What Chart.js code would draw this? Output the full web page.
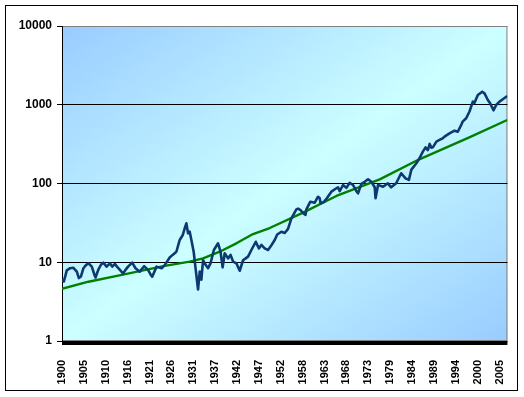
<!DOCTYPE html>
<html>
<head>
<meta charset="utf-8">
<script src="https://cdn.jsdelivr.net/npm/chart.js@4/dist/chart.umd.min.js"></script>
<style>
  body { margin: 0; background: #fff; }
  canvas { display: block; }
</style>
</head>
<body>
<canvas id="myChart" width="524" height="397"></canvas>
<script>
// index series (year, value)
const indexYears = [
  1900.25, 1900.7, 1901.4, 1902.2, 1903.0, 1903.8, 1904.3, 1904.8, 1905.4, 1906.0,
  1906.6, 1907.4, 1908.0, 1908.3, 1908.95, 1909.6, 1910.15, 1910.96, 1911.75, 1912.3,
  1912.95, 1913.6, 1914.15, 1914.9, 1915.5, 1916.1, 1917.1, 1917.9, 1918.9, 1919.95,
  1920.9, 1921.5, 1921.9, 1922.95, 1924.15, 1924.9, 1926.1, 1926.8, 1927.7, 1928.5,
  1929.2, 1929.7, 1930.1, 1930.5, 1930.9, 1931.3, 1931.85, 1932.3, 1932.9, 1933.3,
  1933.7, 1934.1, 1934.75, 1935.3, 1935.9, 1936.7, 1937.7, 1938.3, 1938.8, 1939.3,
  1940.1, 1940.7, 1941.3, 1942.1, 1942.9, 1943.7, 1944.9, 1945.7, 1946.75, 1947.5,
  1948.1, 1948.9, 1949.7, 1950.3, 1951.3, 1951.9, 1952.9, 1953.7, 1954.5, 1955.3,
  1956.5, 1956.9, 1957.5, 1958.1, 1958.7, 1958.9, 1959.85, 1960.9, 1961.7, 1962.1,
  1962.3, 1963.05, 1963.8, 1964.9, 1966.1, 1966.5, 1966.9, 1967.7, 1968.5, 1969.3,
  1970.1, 1970.9, 1971.3, 1972.1, 1972.9, 1973.7, 1974.5, 1975.3, 1975.5, 1976.1,
  1977.3, 1978.45, 1979.25, 1980.45, 1981.65, 1982.7, 1983.5, 1984.1, 1985.3, 1986.05,
  1986.85, 1987.5, 1988.05, 1988.5, 1988.9, 1989.25, 1990.1, 1990.85, 1991.6, 1992.05,
  1993.25, 1994.45, 1995.25, 1996.05, 1996.4, 1997.25, 1998.05, 1998.85, 1999.25, 2000.05,
  2001.1, 2001.65, 2002.45, 2003.0, 2003.8, 2004.45, 2005.25, 2006.05, 2007.1
];
const indexValues = [
  6.1, 5.7, 7.9, 8.4, 8.5, 7.6, 6.3, 6.6, 8.4, 9.2,
  9.7, 8.8, 7.0, 6.4, 8.0, 9.3, 9.9, 8.8, 9.7, 8.8,
  9.5, 8.6, 8.0, 7.2, 8.0, 8.8, 9.9, 8.4, 7.6, 8.9,
  8.0, 7.0, 6.55, 8.8, 8.4, 9.2, 11.5, 12.4, 13.6, 19.2,
  22, 27, 31.2, 23.3, 24.4, 19.2, 13.6, 8.4, 4.5, 7.6,
  6.0, 10.6, 9.2, 8.4, 9.7, 14.3, 17.4, 13.6, 8.6, 13.0,
  11.2, 12.4, 10.2, 9.7, 7.8, 10.6, 11.8, 14.3, 18.2, 15.0,
  16.6, 15.0, 14.3, 15.8, 19.2, 22.5, 24.4, 23.5, 26.5, 36.1,
  47, 48, 46, 41.9, 40, 47, 58.7, 57, 67.9, 65,
  56, 58, 64.9, 78.7, 87, 89.5, 80, 95.7, 88, 102,
  95.7, 80, 75, 99, 105, 113, 105, 89.5, 65, 95.7,
  91, 100.6, 89.5, 100.6, 135, 116, 111, 150, 181, 209,
  254, 288, 266, 318, 285, 288, 340, 357, 375, 393,
  433, 469, 455, 553, 610, 673, 820, 1094, 1060, 1330,
  1465, 1397, 1148, 1043, 850, 993, 1094, 1174, 1291
];

// trend line
const trendYears = [1900.25, 1906.6, 1914.6, 1924.9, 1930.9, 1934.1, 1938.1, 1942.1, 1946.1, 1950.1, 1958.1, 1966.1, 1976.5, 1986.0, 1998.0, 2007.1];
const trendValues = [4.6, 5.66, 6.9, 9.0, 10.2, 11.2, 13.6, 17.4, 22.8, 27.2, 42.6, 69.4, 113, 203, 386, 640];

// axes
const yTicks = [1, 10, 100, 1000, 10000];
const xTickPos = [1900.25, 1905.5, 1910.75, 1916, 1921.25, 1926.5, 1931.75, 1937, 1942.25, 1947.5, 1952.75,
  1958, 1963.25, 1968.5, 1973.75, 1979, 1984.25, 1989.5, 1994.75, 2000, 2005.25];
const xTickLabels = ["1900", "1905", "1910", "1916", "1921", "1926", "1931", "1937", "1942", "1947", "1952",
  "1958", "1963", "1968", "1973", "1979", "1984", "1989", "1994", "2000", "2005"];

const toPoints = (xs, ys) => xs.map((x, i) => ({ x, y: ys[i] }));

const plotBackground = {
  id: "plotBackground",
  beforeDraw: (chart) => {
    const { ctx, chartArea: a } = chart;
    const w = a.right - a.left, h = a.bottom - a.top;
    // bands parallel to the bottom-left / top-right diagonal
    const k = 2 * w * h / (w * w + h * h);
    const g = ctx.createLinearGradient(a.left, a.top, a.left + h * k, a.top + w * k);
    g.addColorStop(0, "#99ccff");
    g.addColorStop(0.5, "#ccffff");
    g.addColorStop(1, "#99ccff");
    ctx.save();
    ctx.fillStyle = g;
    ctx.fillRect(a.left, a.top, w, h);
    ctx.strokeStyle = "#808080";
    ctx.lineWidth = 1;
    ctx.strokeRect(a.left + 0.5, a.top + 0.5, w - 1, h - 1);
    ctx.restore();
  },
  afterDraw: (chart) => {
    const { ctx, chartArea: a } = chart;
    ctx.save();
    ctx.fillStyle = "#000";
    ctx.fillRect(a.left, a.bottom, a.right - a.left, 4);
    ctx.strokeStyle = "#000";
    ctx.lineWidth = 1;
    ctx.strokeRect(5.5, 5.5, 512, 385);
    ctx.restore();
  }
};

const chart = new Chart(document.getElementById("myChart"), {
  type: "line",
  data: {
    datasets: [
      { data: toPoints(indexYears, indexValues), borderColor: "#0c3a70", borderWidth: 2.6, borderJoinStyle: "round", pointRadius: 0, tension: 0 },
      { data: toPoints(trendYears, trendValues), borderColor: "#008000", borderWidth: 2.4, borderJoinStyle: "round", pointRadius: 0, tension: 0 }
    ]
  },
  options: {
    responsive: false,
    animation: false,
    devicePixelRatio: 1,
    layout: { padding: { left: 0, top: 26, right: 16, bottom: 0 } },
    plugins: { legend: { display: false }, tooltip: { enabled: false } },
    scales: {
      x: {
        type: "linear",
        min: 1900.25,
        max: 2007.15,
        afterBuildTicks: s => { s.ticks = xTickPos.map(v => ({ value: v })); },
        afterFit: s => { s.height = 56; },
        grid: { display: false },
        border: { display: false },
        ticks: {
          autoSkip: false,
          minRotation: 90,
          maxRotation: 90,
          padding: 11,
          color: "#000",
          font: { family: "Liberation Sans, Arial", size: 11, weight: "bold" },
          callback: (v, i) => xTickLabels[i]
        }
      },
      y: {
        type: "logarithmic",
        min: 1,
        max: 10000,
        afterBuildTicks: s => { s.ticks = yTicks.map(v => ({ value: v })); },
        afterFit: s => { s.width = 62; },
        grid: {
          color: c => (c.tick && c.tick.value === 10000 ? "#808080" : "#000"),
          tickColor: "#000",
          tickLength: 5,
          lineWidth: 1
        },
        border: { color: "#000", width: 1 },
        ticks: {
          padding: 5,
          color: "#000",
          font: { family: "Liberation Sans, Arial", size: 12, weight: "bold" },
          callback: v => String(v)
        }
      }
    }
  },
  plugins: [plotBackground]
});
</script>
</body>
</html>
